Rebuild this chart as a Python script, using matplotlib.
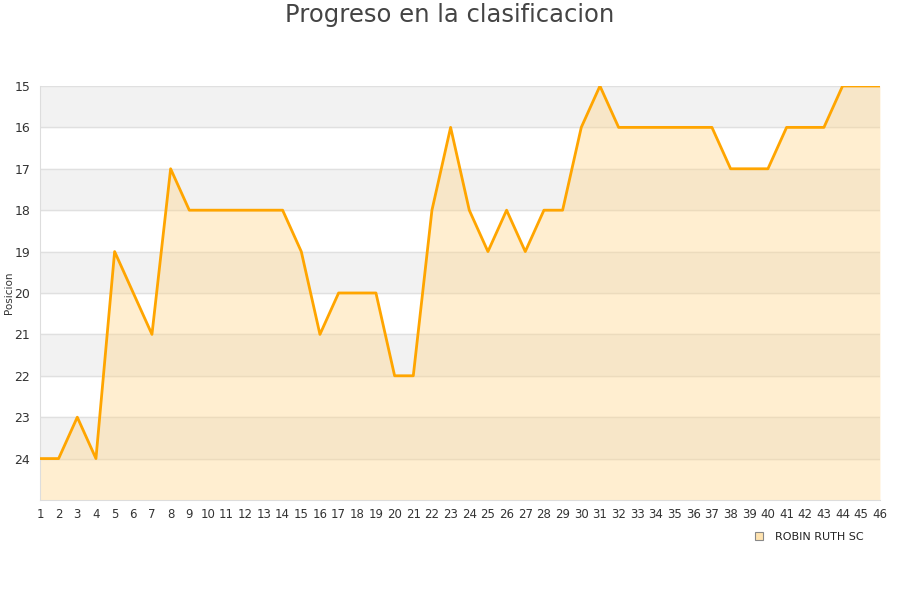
import matplotlib.pyplot as plt
import numpy as np

# jornadas and posicion per jornada
jornadas = list(range(1, 47))
posicion = [24, 24, 23, 24, 19, 20, 21, 17, 18, 18,
            18, 18, 18, 18, 19, 21, 20, 20, 20, 22,
            22, 18, 16, 18, 19, 18, 19, 18, 18, 16,
            15, 16, 16, 16, 16, 16, 16, 17, 17, 17,
            16, 16, 16, 15, 15, 15]
equipo = 'ROBIN RUTH SC'
y_ticks = list(range(15, 25))

fig = plt.figure(figsize=(9, 6), dpi=100)
ax = fig.add_axes([0.0444, 0.1667, 0.9333, 0.69])

# alternating horizontal bands
for k in range(15, 25, 2):
    ax.axhspan(k, k + 1, color='#f2f2f2', zorder=0)
for k in y_ticks:
    ax.axhline(k, color='#e0e0e0', lw=1, zorder=1)

ax.fill_between(jornadas, posicion, 25, color='#ffd58a', alpha=0.4, lw=0, zorder=2)
ax.plot(jornadas, posicion, color='#ffa500', lw=2, zorder=3)

ax.set_xlim(1, 46)
ax.set_ylim(25, 15)
ax.set_xticks(jornadas)
ax.set_yticks(y_ticks)
ax.tick_params(axis='x', labelsize=8.5, colors='#333333', length=0, pad=6)
ax.tick_params(axis='y', labelsize=9, colors='#333333', length=0, pad=7)
for s in ['top', 'right']:
    ax.spines[s].set_visible(False)
for s in ['left', 'bottom']:
    ax.spines[s].set_color('#dddddd')

fig.text(0.0105, 0.512, 'Posicion', fontsize=7.5, color='#333333',
         rotation=90, ha='center', va='center')
fig.suptitle('Progreso en la clasificacion', fontsize=17.5, color='#444444', y=0.995)

fig.legend([plt.Line2D([], [], marker='s', ls='', markersize=6,
                       markerfacecolor='#ffe3b0', markeredgecolor='#888888', markeredgewidth=0.8)],
           [equipo], loc='upper left', bbox_to_anchor=(0.82, 0.13), frameon=False,
           fontsize=8, handletextpad=0.4, labelcolor='#222222')

fig.savefig('out.png', dpi=100)
